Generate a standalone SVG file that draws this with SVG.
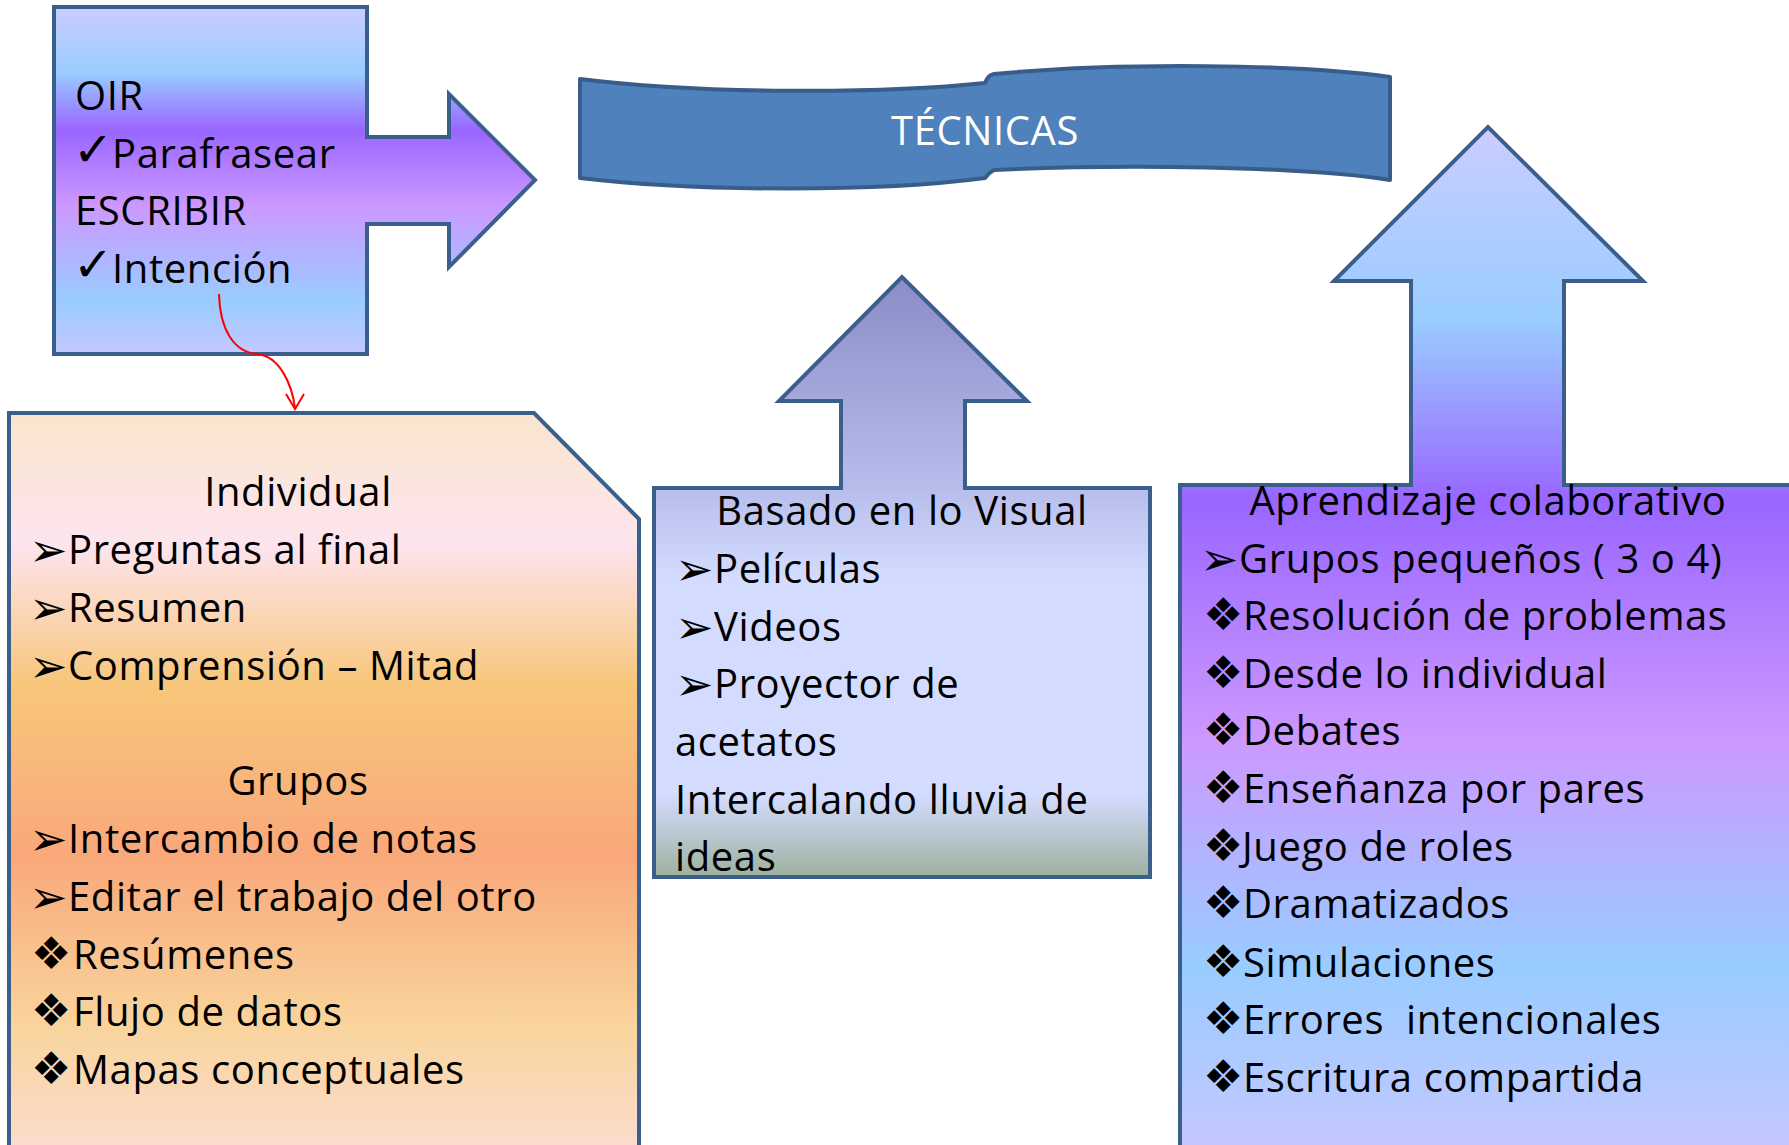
<svg xmlns="http://www.w3.org/2000/svg" width="1789" height="1145" viewBox="0 0 1789 1145">
<style>
.t{font-family:"Open Sans","Liberation Sans",sans-serif;font-size:40px;fill:#000;letter-spacing:0.6px}
.c{text-anchor:middle}
.b{font-family:"DejaVu Sans",sans-serif;font-size:46px;fill:#000}
.d{font-family:"DejaVu Sans",sans-serif;font-size:45px;fill:#000}
.k{font-family:"DejaVu Sans",sans-serif;font-size:48px;font-weight:bold;fill:#000}
.shape{stroke:#3b5f8c;stroke-width:4;stroke-linejoin:miter}
</style>
<defs>
<linearGradient id="gDay1" gradientUnits="userSpaceOnUse" x1="0" y1="7" x2="0" y2="354">
<stop offset="0" stop-color="#ccccff"/>
<stop offset="0.19" stop-color="#99ccff"/>
<stop offset="0.355" stop-color="#9966ff"/>
<stop offset="0.576" stop-color="#cc99ff"/>
<stop offset="0.844" stop-color="#99ccff"/>
<stop offset="1" stop-color="#c4c8ff"/>
</linearGradient>
<linearGradient id="gDay2" gradientUnits="userSpaceOnUse" x1="0" y1="127" x2="0" y2="1150">
<stop offset="0" stop-color="#ccccff"/>
<stop offset="0.19" stop-color="#99ccff"/>
<stop offset="0.365" stop-color="#9966ff"/>
<stop offset="0.6" stop-color="#cc99ff"/>
<stop offset="0.82" stop-color="#99ccff"/>
<stop offset="1" stop-color="#c4c8ff"/>
</linearGradient>
<linearGradient id="gSun" gradientUnits="userSpaceOnUse" x1="0" y1="413" x2="0" y2="1150">
<stop offset="0" stop-color="#f9e6cc"/>
<stop offset="0.18" stop-color="#fde4ee"/>
<stop offset="0.37" stop-color="#f8c67a"/>
<stop offset="0.6" stop-color="#f9a87a"/>
<stop offset="0.83" stop-color="#f9d49c"/>
<stop offset="1" stop-color="#fcdcce"/>
</linearGradient>
<linearGradient id="gVis" gradientUnits="userSpaceOnUse" x1="0" y1="277" x2="0" y2="879">
<stop offset="0" stop-color="#8a8cc6"/>
<stop offset="0.35" stop-color="#b7bdeb"/>
<stop offset="0.5" stop-color="#d3dcff"/>
<stop offset="0.86" stop-color="#d3dcff"/>
<stop offset="1" stop-color="#9cb09c"/>
</linearGradient>
</defs>
<rect width="1789" height="1145" fill="#ffffff"/>

<g id="node-oir">
<path class="shape" fill="url(#gDay1)" d="M54,7 L367,7 L367,137 L449,137 L449,94 L535,180 L449,267 L449,224 L367,224 L367,354 L54,354 Z"/>
<text class="t" x="75" y="110">OIR</text>
<text class="k" x="73" y="166">✓</text>
<text class="t" x="112" y="168">Parafrasear</text>
<text class="t" x="75" y="225">ESCRIBIR</text>
<text class="k" x="73" y="281">✓</text>
<text class="t" x="112" y="283">Intención</text>
</g>

<g id="node-tecnicas">
<path fill="#4f81bd" stroke="#385d8a" stroke-width="4" stroke-linejoin="round" d="M580,79 C700,94 880,94 985,83 C988,76 990,75 994,74 C1120,62 1300,64 1390,77 L1390,180 C1300,166 1120,164 994,170 C990,172 988,174 985,178 C880,192 700,192 580,178 Z"/>
<text class="t c" x="985" y="145" style="fill:#ffffff">TÉCNICAS</text>
</g>

<g id="node-individual">
<path class="shape" fill="url(#gSun)" d="M9,413 L534,413 L639,519 L639,1160 L9,1160 Z"/>
<text class="t c" x="298" y="506">Individual</text>
<text class="b" x="29" y="566">➢</text><text class="t" x="68" y="564">Preguntas al final</text>
<text class="b" x="29" y="624">➢</text><text class="t" x="68" y="622">Resumen</text>
<text class="b" x="29" y="682">➢</text><text class="t" x="68" y="680">Comprensión – Mitad</text>
<text class="t c" x="298" y="795">Grupos</text>
<text class="b" x="29" y="855">➢</text><text class="t" x="68" y="853">Intercambio de notas</text>
<text class="b" x="29" y="913">➢</text><text class="t" x="68" y="911">Editar el trabajo del otro</text>
<text class="d" x="31" y="969">❖</text><text class="t" x="73" y="969">Resúmenes</text>
<text class="d" x="31" y="1026">❖</text><text class="t" x="73" y="1026">Flujo de datos</text>
<text class="d" x="31" y="1084">❖</text><text class="t" x="73" y="1084">Mapas conceptuales</text>
</g>

<g id="node-visual">
<path class="shape" fill="url(#gVis)" d="M654,488 L841,488 L841,401 L779,401 L902,277 L1027,401 L965,401 L965,488 L1150,488 L1150,877 L654,877 Z"/>
<text class="t c" x="902" y="525">Basado en lo Visual</text>
<text class="b" x="675" y="585">➢</text><text class="t" x="714" y="583">Películas</text>
<text class="b" x="675" y="643">➢</text><text class="t" x="714" y="641">Videos</text>
<text class="b" x="675" y="700">➢</text><text class="t" x="714" y="698">Proyector de</text>
<text class="t" x="675" y="756">acetatos</text>
<text class="t" x="675" y="814">Intercalando lluvia de</text>
<text class="t" x="675" y="871">ideas</text>
</g>

<g id="node-colaborativo">
<path class="shape" fill="url(#gDay2)" d="M1180,485 L1411,485 L1411,281 L1334,281 L1488,127 L1643,281 L1564,281 L1564,485 L1800,485 L1800,1160 L1180,1160 Z"/>
<text class="t c" x="1488" y="515">Aprendizaje colaborativo</text>
<text class="b" x="1200" y="575">➢</text><text class="t" x="1239" y="573">Grupos pequeños ( 3 o 4)</text>
<text class="d" x="1203" y="630">❖</text><text class="t" x="1243" y="630">Resolución de problemas</text>
<text class="d" x="1203" y="688">❖</text><text class="t" x="1243" y="688">Desde lo individual</text>
<text class="d" x="1203" y="745">❖</text><text class="t" x="1243" y="745">Debates</text>
<text class="d" x="1203" y="803">❖</text><text class="t" x="1243" y="803">Enseñanza por pares</text>
<text class="d" x="1203" y="861">❖</text><text class="t" x="1242" y="861">Juego de roles</text>
<text class="d" x="1203" y="918">❖</text><text class="t" x="1243" y="918">Dramatizados</text>
<text class="d" x="1203" y="977">❖</text><text class="t" x="1243" y="977">Simulaciones</text>
<text class="d" x="1203" y="1034">❖</text><text class="t" x="1243" y="1034" xml:space="preserve">Errores  intencionales</text>
<text class="d" x="1203" y="1092">❖</text><text class="t" x="1243" y="1092">Escritura compartida</text>
</g>

<g id="connectors">
<path d="M219,294 C220,330 234,352 257,354 C280,356 292,385 295,408" fill="none" stroke="#ff0000" stroke-width="2"/>
<path d="M286,394 L295,409 L304,394" fill="none" stroke="#ff0000" stroke-width="2"/>
</g>
</svg>
